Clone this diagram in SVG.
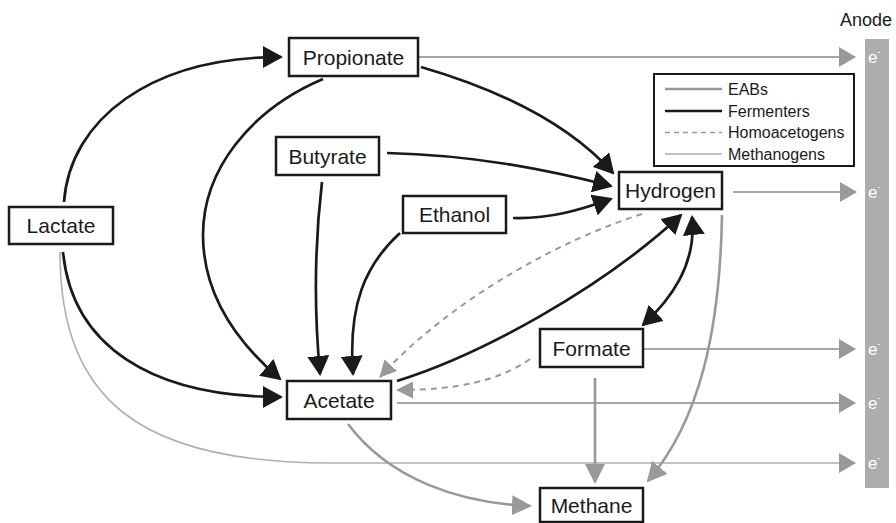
<svg xmlns="http://www.w3.org/2000/svg" width="896" height="523" viewBox="0 0 896 523">
<style>
.box{fill:#fff;stroke:#1a1a1a;stroke-width:2.5}
.lbl{font-family:"Liberation Sans",Arial,sans-serif;font-size:21px;fill:#1a1a1a;text-anchor:middle}
.leg{font-family:"Liberation Sans",Arial,sans-serif;font-size:16px;fill:#1a1a1a}
.ferm{fill:none;stroke:#1a1a1a;stroke-width:2.7;marker-end:url(#ab)}
.eab{fill:none;stroke:#a6a6a6;stroke-width:2;marker-end:url(#ag)}
.meth{fill:none;stroke:#999;stroke-width:2.6;marker-end:url(#am)}
.homo{fill:none;stroke:#999;stroke-width:2;stroke-dasharray:6 5;marker-end:url(#ad)}
.el{font-family:"Liberation Sans",Arial,sans-serif;font-size:17px;fill:#fff}
</style>
<defs>
<marker id="ab" markerUnits="userSpaceOnUse" markerWidth="20" markerHeight="22" viewBox="0 0 20 22" refX="18" refY="11" orient="auto-start-reverse"><path d="M0,0 L20,11 L0,22 Z" fill="#1a1a1a"/></marker>
<marker id="ag" markerUnits="userSpaceOnUse" markerWidth="17" markerHeight="20" viewBox="0 0 17 20" refX="16" refY="10" orient="auto"><path d="M0,0 L17,10 L0,20 Z" fill="#999"/></marker>
<marker id="am" markerUnits="userSpaceOnUse" markerWidth="20" markerHeight="20" viewBox="0 0 20 20" refX="18" refY="10" orient="auto"><path d="M0,0 L20,10 L0,20 Z" fill="#999"/></marker>
<marker id="ad" markerUnits="userSpaceOnUse" markerWidth="17" markerHeight="17" viewBox="0 0 17 17" refX="16" refY="8.5" orient="auto"><path d="M0,0 L17,8.5 L0,17 Z" fill="#999"/></marker>
</defs>

<g id="anode">
<text class="leg" x="840" y="26" style="font-size:18px">Anode</text>
<rect x="865" y="39" width="24" height="449" fill="#adadad"/>
<text class="el" x="868" y="63">e<tspan font-size="9" dy="-8">-</tspan></text>
<text class="el" x="868" y="198">e<tspan font-size="9" dy="-8">-</tspan></text>
<text class="el" x="868" y="355">e<tspan font-size="9" dy="-8">-</tspan></text>
<text class="el" x="868" y="409">e<tspan font-size="9" dy="-8">-</tspan></text>
<text class="el" x="868" y="469">e<tspan font-size="9" dy="-8">-</tspan></text>
</g>

<g id="connectors">
<!-- EABs to anode -->
<path class="eab" d="M418,57 L855,57"/>
<path class="eab" d="M733,192 L856,192"/>
<path class="eab" d="M643,349 L855,349"/>
<path class="eab" d="M397,403 L855,403"/>
<path class="eab" d="M60,252 C60,400 140,463 330,463 L855,463" style="stroke:#b0b0b0;stroke-width:1.6"/>
<!-- Methanogens -->
<path class="meth" d="M348,424 C390,480 460,503 530,506"/>
<path class="meth" d="M595,378 L595,482"/>
<path class="meth" d="M722,215 C720,330 700,420 648,481"/>
<!-- Fermenters -->
<path class="ferm" d="M64,202 C70,120 150,57 281,57"/>
<path class="ferm" d="M63,252 C72,345 150,397 281,397"/>
<path class="ferm" d="M323,79 C250,110 203,170 203,235 C203,290 232,338 280,379"/>
<path class="ferm" d="M322,182 C314,250 314,310 320,374"/>
<path class="ferm" d="M400,233 C365,265 348,305 353,374"/>
<path class="ferm" d="M421,67 C500,90 570,125 613,173"/>
<path class="ferm" d="M387,153 C470,155 540,168 611,186"/>
<path class="ferm" d="M513,218 C550,219 580,210 611,199"/>
<path class="ferm" d="M397,381 C480,355 600,290 681,215"/>
<path class="ferm" d="M643,325 C670,300 697,265 692,217" style="marker-start:url(#ab)"/>
<!-- Homoacetogens -->
<path class="homo" d="M642,214 C560,240 450,300 380,377"/>
<path class="homo" d="M530,359 C500,380 460,390 397,390"/>
</g>

<g id="propionate"><rect class="box" x="289" y="38" width="129" height="38"/><text class="lbl" x="353.5" y="64.5">Propionate</text></g>
<g id="butyrate"><rect class="box" x="276" y="137" width="103" height="38"/><text class="lbl" x="327.5" y="163.5">Butyrate</text></g>
<g id="lactate"><rect class="box" x="9" y="207" width="104" height="37"/><text class="lbl" x="61" y="233">Lactate</text></g>
<g id="ethanol"><rect class="box" x="403" y="196" width="103" height="37"/><text class="lbl" x="454.5" y="222">Ethanol</text></g>
<g id="hydrogen"><rect class="box" x="619" y="172" width="103" height="37"/><text class="lbl" x="670.5" y="198">Hydrogen</text></g>
<g id="formate"><rect class="box" x="540" y="329" width="103" height="38"/><text class="lbl" x="591.5" y="355.5">Formate</text></g>
<g id="acetate"><rect class="box" x="287" y="381" width="104" height="38"/><text class="lbl" x="339" y="407.5">Acetate</text></g>
<g id="methane"><rect class="box" x="540" y="488" width="103" height="34"/><text class="lbl" x="591.5" y="513">Methane</text></g>

<g id="legend">
<rect x="654" y="74" width="200" height="92" fill="#fff" stroke="#1a1a1a" stroke-width="2"/>
<line x1="665" y1="89" x2="722" y2="89" stroke="#999" stroke-width="2.5"/>
<text class="leg" x="728" y="94.5">EABs</text>
<line x1="665" y1="111" x2="722" y2="111" stroke="#1a1a1a" stroke-width="2.5"/>
<text class="leg" x="728" y="116.5">Fermenters</text>
<line x1="665" y1="132.5" x2="722" y2="132.5" stroke="#999" stroke-width="1.6" stroke-dasharray="5 4"/>
<text class="leg" x="728" y="138">Homoacetogens</text>
<line x1="665" y1="154" x2="722" y2="154" stroke="#aaa" stroke-width="1.6"/>
<text class="leg" x="728" y="159.5">Methanogens</text>
</g>
</svg>
